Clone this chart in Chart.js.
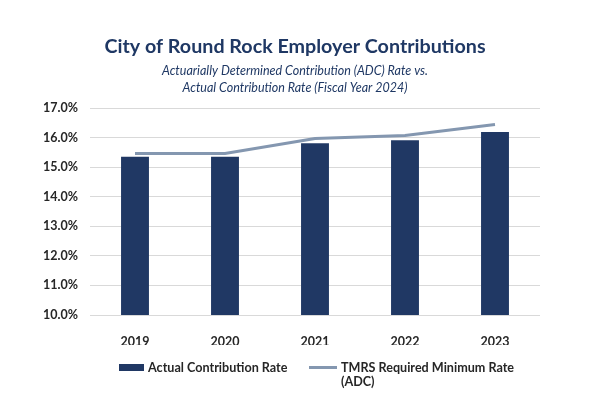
<!DOCTYPE html>
<html>
<head>
<meta charset="utf-8">
<script src="https://cdn.jsdelivr.net/npm/chart.js@4/dist/chart.umd.min.js"></script>
<style>
  html, body { margin: 0; padding: 0; background: #fff; }
  #wrap { position: relative; width: 607px; height: 397px; }
</style>
</head>
<body>
<div id="wrap"><canvas id="c" width="607" height="397"></canvas></div>
<script>
const categories = ["2019", "2020", "2021", "2022", "2023"];
const actualRate = [15.35, 15.35, 15.81, 15.91, 16.19];
const requiredRate = [15.46, 15.46, 15.97, 16.07, 16.44];
const yTicks = [10, 11, 12, 13, 14, 15, 16, 17];
const titleText = "City of Round Rock Employer Contributions";
const subtitleLines = ["Actuarially Determined Contribution (ADC) Rate vs.", "Actual Contribution Rate (Fiscal Year 2024)"];
const seriesNames = ["Actual Contribution Rate", ["TMRS Required Minimum Rate", "(ADC)"]];

const NAVY = "#203864";
const STEEL = "#8497B0";
const TEXT = "#262626";
const FONT = "Lato, 'Open Sans', sans-serif";

const decor = {
  id: "decor",
  afterDraw(chart) {
    const ctx = chart.ctx;
    ctx.save();
    ctx.textAlign = "center";
    ctx.textBaseline = "middle";
    ctx.fillStyle = "#1F3864";
    ctx.font = "bold 19.7px " + FONT;
    ctx.fillText(titleText, 295, 47);
    ctx.font = "italic 12.5px " + FONT;
    ctx.fillText(subtitleLines[0], 295, 71);
    ctx.fillText(subtitleLines[1], 295, 88);

    // legend
    ctx.textAlign = "left";
    ctx.fillStyle = NAVY;
    ctx.fillRect(119, 364, 25, 7);
    ctx.fillStyle = TEXT;
    ctx.font = "bold 12.6px " + FONT;
    ctx.fillText(seriesNames[0], 148, 367.5);
    ctx.strokeStyle = STEEL;
    ctx.lineWidth = 3;
    ctx.beginPath();
    ctx.moveTo(309, 367.5);
    ctx.lineTo(337, 367.5);
    ctx.stroke();
    ctx.fillText(seriesNames[1][0], 341, 367.5);
    ctx.fillText(seriesNames[1][1], 341, 382);
    ctx.restore();
  }
};

new Chart(document.getElementById("c"), {
  data: {
    labels: categories,
    datasets: [
      {
        type: "line",
        label: "TMRS Required Minimum Rate (ADC)",
        data: requiredRate,
        borderColor: STEEL,
        backgroundColor: STEEL,
        borderWidth: 3,
        pointRadius: 0,
        tension: 0,
        order: 0
      },
      {
        type: "bar",
        label: "Actual Contribution Rate",
        data: actualRate,
        backgroundColor: NAVY,
        barPercentage: 0.62,
        categoryPercentage: 0.5,
        order: 1
      }
    ]
  },
  options: {
    responsive: false,
    animation: false,
    layout: { padding: { top: 108, right: 67, bottom: 52, left: 0 } },
    plugins: {
      legend: { display: false },
      title: { display: false },
      tooltip: { enabled: false }
    },
    scales: {
      x: {
        grid: { display: false },
        border: { display: false },
        ticks: { color: TEXT, font: { family: FONT, size: 12.5, weight: "bold" }, padding: 11 },
        afterFit(s) { s.height = 30; }
      },
      y: {
        min: 10,
        max: 17,
        afterBuildTicks(s) { s.ticks = yTicks.map(v => ({ value: v })); },
        grid: { color: "#D9D9D9", drawTicks: false, lineWidth: 1 },
        border: { display: false },
        ticks: {
          color: TEXT,
          font: { family: FONT, size: 12.5, weight: "bold" },
          padding: 12,
          callback: v => v.toFixed(1) + "%"
        },
        afterFit(s) { s.width = 90; }
      }
    }
  },
  plugins: [decor]
});
</script>
</body>
</html>
